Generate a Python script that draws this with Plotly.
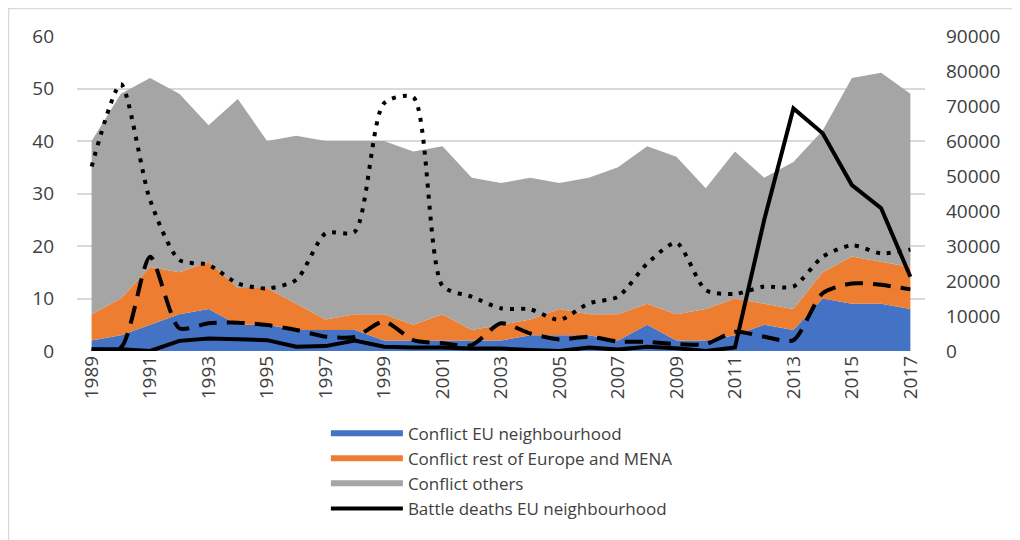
import plotly.graph_objects as go

years = list(range(1989, 2018))

# number of conflicts (left axis, stacked)
conf_eu = [2, 3, 5, 7, 8, 5, 5, 4, 4, 4, 2, 2, 2, 2, 2, 3, 3, 3, 2, 5, 2, 2, 3, 5, 4, 10, 9, 9, 8]
conf_rest_top = [7, 10, 16, 15, 17, 12, 12, 9, 6, 7, 7, 5, 7, 4, 5, 6, 8, 7, 7, 9, 7, 8, 10, 9, 8, 15, 18, 17, 16]
conf_total = [40, 49, 52, 49, 43, 48, 40, 41, 40, 40, 40, 38, 39, 33, 32, 33, 32, 33, 35, 39, 37, 31, 38, 33, 36, 42, 52, 53, 49]
conf_rest = [t - e for t, e in zip(conf_rest_top, conf_eu)]
conf_others = [t - r for t, r in zip(conf_total, conf_rest_top)]

# battle deaths (right axis)
deaths_eu = [500, 500, 0, 2900, 3600, 3300, 3100, 1200, 1400, 3000, 1200, 1000, 1000, 700, 700, 300,
             0, 1000, 400, 1200, 800, 0, 1000, 37400, 69300, 62200, 47400, 40800, 21200]
deaths_rest = [500, 1000, 26900, 6500, 7900, 8100, 7400, 6000, 4100, 4000, 8400, 3100, 2200, 1700, 7900, 5000,
               3300, 4100, 2700, 2600, 2000, 2000, 5500, 4100, 3100, 16500, 19300, 18900, 17600]
deaths_others = [52700, 76200, 43100, 26000, 24600, 19300, 17900, 20300, 33600, 34100, 70800, 72500, 18600, 15500,
                 12200, 11900, 8900, 13600, 15500, 25000, 30900, 17400, 16300, 18400, 18400, 26900, 30200, 27900, 29000]

fig = go.Figure()

fig.add_trace(go.Scatter(x=years, y=conf_eu, name='Conflict EU neighbourhood', stackgroup='c',
                         mode='none', fillcolor='#4472C4'))
fig.add_trace(go.Scatter(x=years, y=conf_rest, name='Conflict rest of Europe and MENA', stackgroup='c',
                         mode='none', fillcolor='#ED7D31'))
fig.add_trace(go.Scatter(x=years, y=conf_others, name='Conflict others', stackgroup='c',
                         mode='none', fillcolor='#A5A5A5'))

fig.add_trace(go.Scatter(x=years, y=deaths_others, yaxis='y2', mode='lines', showlegend=False,
                         line=dict(color='black', width=4, dash='4px,7px', shape='spline', smoothing=0.7)))
fig.add_trace(go.Scatter(x=years, y=deaths_rest, yaxis='y2', mode='lines', showlegend=False,
                         line=dict(color='black', width=4, dash='18px,10px', shape='spline', smoothing=0.7)))
fig.add_trace(go.Scatter(x=years, y=deaths_eu, yaxis='y2', mode='lines', name='Battle deaths EU neighbourhood',
                         line=dict(color='black', width=4)))

font_fam = 'Open Sans, sans-serif'
tick_font = dict(family=font_fam, size=19, color='#404040')

# plot area 848 x 315 px
fig.update_layout(
    width=1020, height=540,
    margin=dict(l=69, r=103, t=28, b=197, autoexpand=False),
    paper_bgcolor='white', plot_bgcolor='white',
    font=dict(family=font_fam, color='#404040', size=18),
    xaxis=dict(range=[1988.5, 2017.5], tickmode='array', tickvals=years[::2], ticktext=[str(y) for y in years[::2]],
               tickangle=-90, showgrid=False, zeroline=False, showline=False, ticks='',
               tickfont=tick_font, automargin=False),
    yaxis=dict(range=[0, 60], dtick=10, showgrid=True, gridcolor='#D9D9D9', gridwidth=1.5, zeroline=False,
               ticks='', tickfont=tick_font, ticklabelstandoff=22, automargin=False),
    yaxis2=dict(range=[0, 90000], dtick=10000, overlaying='y', side='right', showgrid=False, zeroline=False,
                ticks='', tickfont=tick_font, tickformat='d', ticklabelstandoff=20, automargin=False),
    legend=dict(x=0.2935, y=-0.205, xanchor='left', yanchor='top', traceorder='normal',
                font=dict(family=font_fam, size=17, color='#404040'),
                tracegroupgap=0, itemwidth=72, bgcolor='rgba(0,0,0,0)'),
    showlegend=True,
)

fig.add_shape(type='rect', xref='paper', yref='paper',
              x0=(0.5 - 69) / 848, x1=(1019.5 - 69) / 848, y0=-(197 - 0.5) / 315, y1=(315 + 27.5) / 315,
              line=dict(color='#D9D9D9', width=1.5), fillcolor='rgba(0,0,0,0)', layer='below')

fig.write_html("out.html")
